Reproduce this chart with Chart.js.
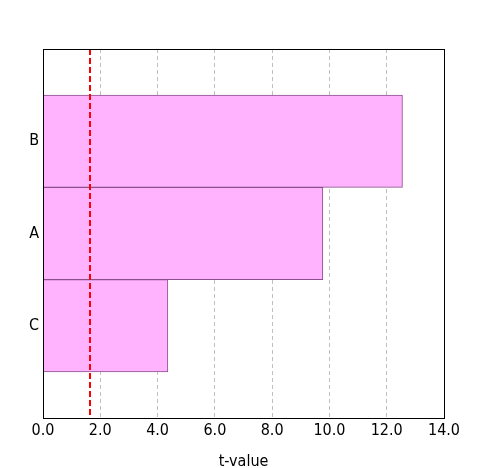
<!DOCTYPE html>
<html>
<head>
<meta charset="utf-8">
<script src="https://cdn.jsdelivr.net/npm/chart.js@4/dist/chart.umd.min.js"></script>
<style>
html,body{margin:0;padding:0;background:#fff;}
#wrap{width:492px;height:468px;position:relative;}
</style>
</head>
<body>
<div id="wrap"><canvas id="c" width="492" height="468"></canvas></div>
<script>
const categories = ['B', 'A', 'C'];
const tValues = [12.55, 9.77, 4.36];
const criticalValue = 1.645;
const xTicks = [0, 2, 4, 6, 8, 10, 12, 14];

// one empty half-slot above and below the bars
const labels = [''].concat(categories).concat(['']);
const data = [null].concat(tValues).concat([null]);

const FONT = "'DejaVu Sans Condensed', 'DejaVu Sans', sans-serif";

const overlay = {
  id: 'overlay',
  afterDatasetsDraw(chart) {
    const ctx = chart.ctx;
    const a = chart.chartArea;
    const xs = chart.scales.x;
    const px = Math.round(xs.getPixelForValue(criticalValue));
    ctx.save();
    ctx.strokeStyle = '#ff0000';
    ctx.lineWidth = 2;
    ctx.setLineDash([6, 3]);
    ctx.beginPath();
    ctx.moveTo(px, a.top);
    ctx.lineTo(px, a.bottom);
    ctx.stroke();
    ctx.setLineDash([]);
    ctx.strokeStyle = '#000';
    ctx.lineWidth = 1;
    ctx.strokeRect(Math.round(a.left) + 0.5, Math.round(a.top) + 0.5,
                   Math.round(a.right - a.left), Math.round(a.bottom - a.top));
    ctx.restore();
  }
};

new Chart(document.getElementById('c'), {
  type: 'bar',
  data: {
    labels: labels,
    datasets: [{
      data: data,
      backgroundColor: '#ffb3ff',
      borderColor: '#8b508b',
      borderWidth: 1,
      barPercentage: 1,
      categoryPercentage: 1
    }]
  },
  options: {
    indexAxis: 'y',
    responsive: false,
    animation: false,
    devicePixelRatio: 1,
    layout: { padding: { left: 0, top: 49, right: 48, bottom: 0 } },
    plugins: { legend: { display: false }, tooltip: { enabled: false } },
    scales: {
      x: {
        type: 'linear',
        min: 0, max: 14,
        afterBuildTicks(s) { s.ticks = xTicks.map(v => ({ value: v })); },
        afterFit(s) { s.height = 50; },
        border: { display: false, dash: [4, 3] },
        grid: {
          color: (c) => (c.tick && (c.tick.value === 0 || c.tick.value === 14)) ? 'rgba(0,0,0,0)' : '#c0c0c0',
          lineWidth: 1,
          drawTicks: false
        },
        ticks: {
          color: '#000',
          padding: 3,
          maxRotation: 0,
          font: { family: FONT, size: 16 },
          callback: (v) => Number(v).toFixed(1)
        },
        title: {
          display: true,
          text: 't-value',
          color: '#000',
          padding: { top: 4, bottom: -3 },
          font: { family: FONT, size: 16 }
        }
      },
      y: {
        type: 'category',
        offset: false,
        afterFit(s) { s.width = 43; },
        border: { display: false },
        grid: { display: false, drawTicks: false },
        ticks: {
          color: '#000',
          padding: 4,
          font: { family: FONT, size: 16 }
        }
      }
    }
  },
  plugins: [overlay]
});
</script>
</body>
</html>
